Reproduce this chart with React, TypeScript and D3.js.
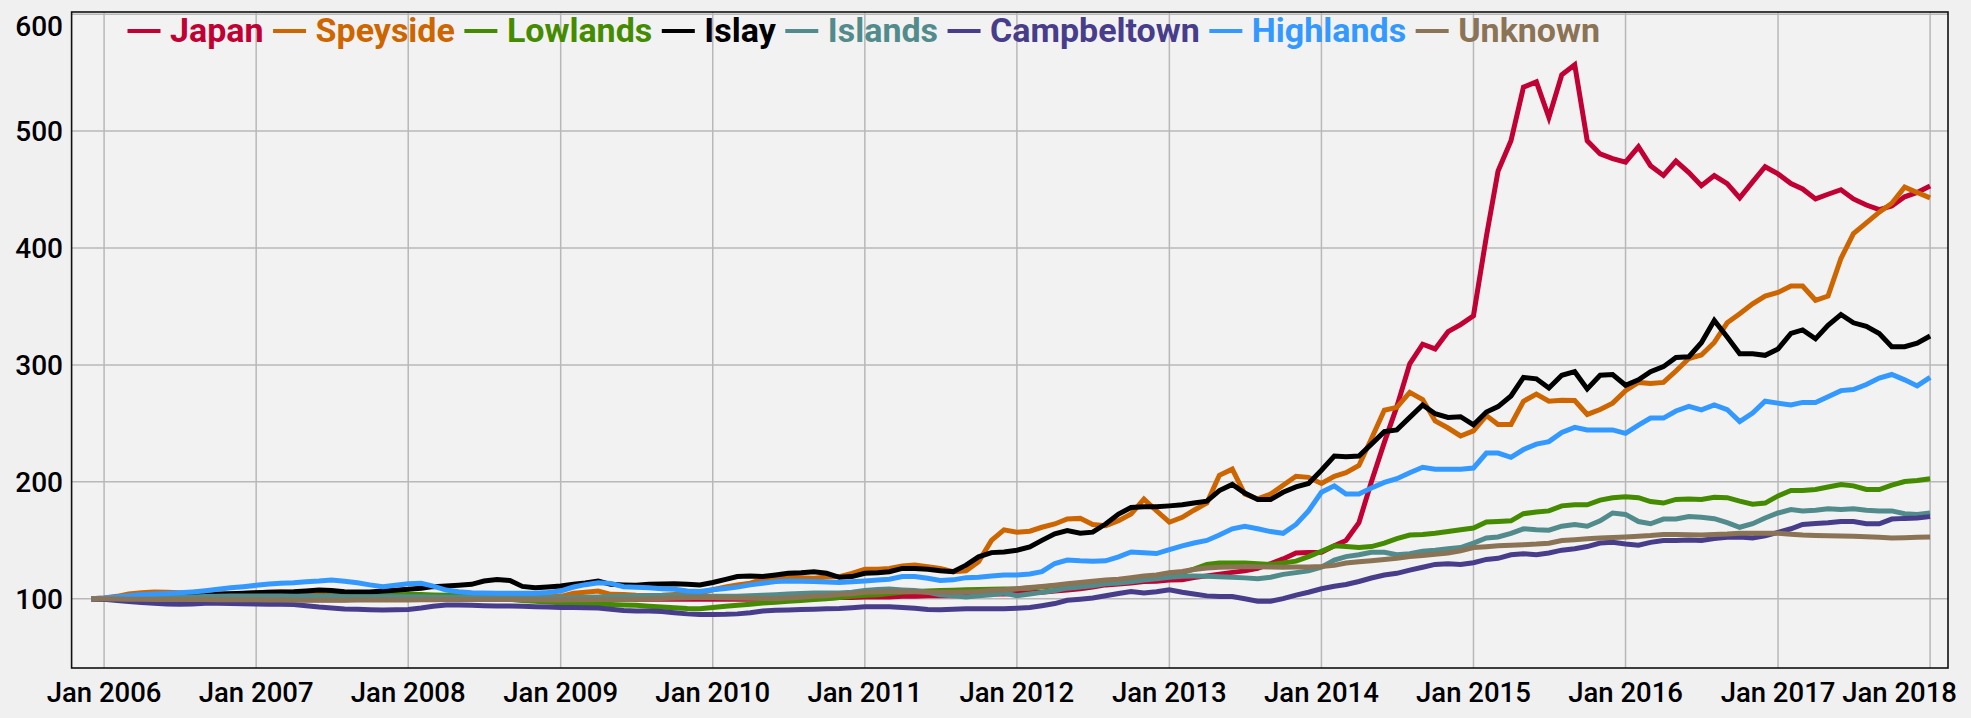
import React, { useEffect, useRef } from "react";
import * as d3 from "d3";

const W = 1971;
const H = 718;

// Monthly dates: Dec 2005 .. Jan 2018
const months: Date[] = d3.timeMonth.range(new Date(2005, 11, 1), new Date(2018, 1, 1));

const seriesNames = ["Japan", "Speyside", "Lowlands", "Islay", "Islands", "Campbeltown", "Highlands", "Unknown"];
const seriesColors = ["#c10034", "#cd6600", "#458b00", "#000000", "#528b8b", "#483d8b", "#3399ff", "#8b7355"];

const japan = [
  100,
  100, 100, 100.5, 100.5, 100, 99.5, 99.5, 99.5, 100, 100, 100, 100,
  100, 100, 99.5, 99.5, 99, 99, 99, 99, 99.5, 99.5, 99.5, 100,
  100, 100, 100, 100, 100, 99.5, 99.5, 99.5, 100, 100, 100.5, 100.5,
  100.5, 101, 101, 100.5, 100, 100, 99.5, 99.5, 99.5, 99.5, 99.5, 99.5,
  99.5, 99.5, 99.5, 99.5, 99.5, 99.5, 99.7, 100, 100, 100.5, 101, 101,
  101.4, 101.5, 101.5, 102, 102, 102.5, 102.5, 102.5, 103, 103.5, 104, 104,
  104.5, 105, 105.5, 106.5, 107.5, 108.5, 110, 111.8, 112.5, 113.5, 114.6, 115,
  116, 116.2, 118, 119.5, 121, 122.5, 123.8, 126, 129.9, 134, 139, 139.5,
  139.7, 145.2, 149.8, 165, 200, 233.7, 264.3, 300.9, 317.7, 313.7, 328.4, 334.5,
  342.1, 410, 465.8, 491.8, 537.6, 542.1, 511.6, 548.2, 556.8, 491.8, 480.5, 476.5,
  473.4, 486.6, 470.4, 462.1, 474.4, 464.5, 453.3, 462, 455.1, 442.9, 456.6, 469.5,
  463.4, 455.1, 450.5, 442, 446, 449.9, 442, 436.8, 432.8, 435.9, 443.8, 447.5,
  453,
];

const speyside = [
  100,
  100.5, 102, 104, 105, 105.7, 105.5, 105, 104.6, 104.5, 104.3, 104.3, 104.5,
  105, 105.5, 105.7, 105.5, 105.3, 105.1, 105, 104.8, 104.3, 103.7, 103.5, 103.2,
  103, 102.8, 102.5, 102.3, 102.3, 102.3, 102.3, 102.3, 102.3, 102, 101.8, 101.7,
  102, 104.6, 105.5, 106.6, 103.7, 103.5, 103, 102.8, 103, 103.5, 103.7, 104.8,
  107.6, 110, 111.8, 113.2, 116.6, 117.5, 118.3, 118, 117.5, 118.5, 118.9, 121.7,
  125.1, 125.1, 125.9, 127.9, 128.7, 127.3, 125.9, 123.1, 123.9, 131.5, 149.9, 158.9,
  156.9, 157.7, 161.1, 163.9, 168.2, 168.7, 163.4, 162.5, 166.8, 172.4, 185.1, 175.2,
  165.4, 169.6, 175.7, 181.8, 205.6, 210.8, 189.5, 185.5, 189.5, 197.1, 204.7, 203.8,
  198.6, 204.7, 207.8, 213.9, 236.8, 261.2, 263.7, 276.5, 270.4, 252.1, 246, 239.2,
  243.5, 256.6, 249, 249, 268.9, 275, 268.9, 269.8, 269.5, 257.6, 261.8, 267.3,
  278, 285, 284.1, 285, 294.8, 305.5, 308.5, 319.2, 336, 343.7, 352.2, 358.9,
  362, 367.5, 367.5, 355.3, 358.9, 391, 412.4, 421.5, 430.7, 438.3, 452.1, 447.5,
  442.9,
];

const lowlands = [
  100,
  100, 100.5, 100.5, 101, 101, 101, 101, 101, 101, 101.5, 101.5, 101.5,
  101.5, 101.8, 102, 102, 102.3, 102.3, 102.5, 102.5, 102.8, 102.8, 103, 103.2,
  103.5, 103.5, 103.2, 103, 102.5, 101.7, 101, 100.5, 99.4, 98.5, 97.8, 97.2,
  96.6, 96, 95.5, 95.2, 95, 94.6, 94.3, 93.5, 92.8, 92.3, 91.6, 91.3,
  92.4, 93.5, 94.4, 95.3, 96.2, 96.9, 97.8, 98.5, 99.2, 100, 101, 102,
  103, 103.4, 104.5, 105.5, 106.2, 106.6, 107, 107.2, 107.6, 107.8, 108, 108.2,
  108.5, 109.2, 109.9, 111, 112, 113.2, 114, 115, 116, 117, 118.3, 119.5,
  121.7, 122.3, 125.3, 129.3, 130.5, 130.5, 130.5, 129.9, 129.3, 130.5, 132.1, 136,
  140.6, 145.2, 144.6, 143.7, 144.6, 147.6, 151.3, 154.4, 155, 155.9, 157.4, 158.9,
  160.5, 165.6, 166, 166.6, 172.7, 174.2, 175.1, 179.4, 180.3, 180.3, 184.3, 186.4,
  187.3, 186.4, 183.1, 181.8, 184.9, 185.2, 184.8, 186.8, 186.4, 183.4, 180.9, 181.8,
  187.9, 192.5, 192.5, 193.4, 195.6, 197.7, 196.5, 193.4, 193.4, 197.1, 200.2, 201.1,
  202.6,
];

const islay = [
  100,
  100, 100.3, 100.6, 100.9, 101.2, 101.5, 101.7, 102.2, 102.8, 103.7, 104.2, 104.6,
  105.1, 105.4, 105.7, 106, 106.6, 107.4, 107, 106, 105.8, 105.7, 106.5, 107.3,
  108, 109, 110.3, 110.8, 111.5, 112.3, 115.1, 116.5, 115.5, 110.5, 109.4, 110,
  110.8, 112.3, 113.5, 115.1, 112.3, 111.8, 111.4, 112.3, 112.5, 112.8, 112.3, 111.8,
  113.8, 116.5, 118.9, 119.4, 118.9, 120.3, 121.7, 122.2, 123.1, 121.7, 118.3, 118.9,
  121.7, 122.2, 123.1, 125.9, 125.9, 125.1, 123.9, 123.1, 128.7, 135.8, 139.4, 140,
  141.4, 144.2, 149.9, 155.5, 158.3, 156, 156.9, 163.9, 172.4, 178, 178.6, 178.6,
  179.4, 180.3, 181.8, 183.4, 192.5, 197.7, 190.4, 184.9, 184.9, 191, 195.6, 198.6,
  209.9, 222.1, 221.5, 222.1, 232.2, 242.9, 244.4, 255.1, 265.8, 258.2, 255.1, 255.7,
  248.7, 259.7, 264.3, 273.4, 289.3, 288.1, 280.2, 291.1, 294.2, 279.5, 291.1, 291.8,
  282.6, 287.2, 294.2, 298.5, 306.4, 307, 319, 338, 323.8, 309.5, 309.5, 308.2,
  313.7, 326.9, 329.9, 322.3, 333.9, 343.1, 336, 333, 326.9, 315.6, 315.6, 318.6,
  324.7,
];

const islands = [
  100,
  100, 100.3, 100.5, 100.8, 101, 101, 101.2, 101.5, 101.8, 102, 102.2, 102.3,
  102.3, 102.3, 102.2, 102, 102, 101.8, 101.8, 101.7, 101.7, 101.7, 101.7, 101.7,
  101.7, 101.6, 101.5, 101.3, 101.2, 101, 101, 100.9, 100.9, 100.9, 100.9, 100.9,
  100.9, 101, 101.2, 101.5, 101.8, 102, 102.2, 102.5, 102.8, 102.8, 102.5, 102.2,
  102, 102, 102, 102.5, 103, 103.4, 104, 104.5, 104.8, 104.8, 104.8, 105.5,
  107, 107.8, 108.2, 107.5, 107, 105.5, 103.4, 102.5, 101.4, 102.5, 103.4, 104.8,
  102.5, 104, 105.4, 107, 109, 110, 111, 112.7, 113.5, 114.5, 116, 117,
  118.3, 119.2, 119.3, 119.2, 118.8, 118.3, 117.8, 117.1, 118.3, 120.8, 122.3, 123.8,
  126.9, 133, 136, 137.6, 139.7, 139.7, 137.6, 138.5, 140.6, 141.5, 142.7, 143.7,
  147.5, 151.9, 152.8, 155.9, 159.8, 158.9, 158.6, 162, 163.5, 162, 166.6, 173.3,
  172.1, 166, 164.1, 168.1, 168.1, 170.2, 169.6, 168.4, 165, 161.1, 164.1, 169,
  173.3, 176.3, 175.1, 175.7, 176.9, 176.3, 176.9, 175.7, 175.1, 175.1, 172.7, 172.1,
  173.3,
];

const campbeltown = [
  100,
  99.5, 98.5, 97.5, 96.8, 96, 95.5, 95.2, 95.5, 96, 96, 95.8, 95.7,
  95.5, 95.3, 95.2, 95, 94, 92.8, 92, 91.2, 90.9, 90.5, 90.3, 90.5,
  90.8, 92, 93.5, 94.6, 94.5, 94.3, 94, 93.8, 93.7, 93.5, 93.2, 92.9,
  92.5, 92.5, 92.3, 92, 91, 89.8, 89.5, 89.5, 89, 88, 87, 86.5,
  86.5, 86.6, 87, 88, 89.5, 90.1, 90.4, 90.7, 91, 91.3, 91.5, 92.2,
  93, 93, 93, 92.5, 91.8, 90.7, 90.5, 91, 91.3, 91.3, 91.3, 91.3,
  91.8, 92.5, 94, 95.8, 98.6, 99.5, 100.6, 102.5, 104.5, 106.2, 104.8, 106,
  107.6, 105.5, 104, 102.4, 101.8, 101.8, 100, 97.9, 97.9, 100, 103.1, 105.5,
  108.5, 110.7, 112.2, 114.7, 117.7, 120.2, 121.7, 124.4, 126.9, 129.3, 129.9, 129.3,
  130.8, 133.6, 134.5, 137.6, 138.5, 137.6, 139.1, 141.5, 142.7, 144.6, 147.6, 148.2,
  146.7, 145.8, 148.2, 149.8, 149.8, 150.2, 149.8, 151.5, 152.5, 152.8, 151.9, 153.7,
  156.8, 159.8, 163.5, 164.4, 165, 166, 166, 164.1, 164.1, 168.1, 168.7, 169,
  170.2,
];

const highlands = [
  100,
  100.5, 101.5, 102.5, 103.5, 104, 104.5, 105, 105.8, 106.8, 108, 109.3, 110.3,
  111.4, 112.5, 113.2, 113.7, 114.5, 115.1, 116, 115, 113.7, 111.8, 110.3, 111.5,
  112.8, 113.1, 110.8, 107.4, 106, 105.1, 104.8, 104.6, 104.6, 104.6, 104.6, 105.3,
  106.6, 110, 112, 113.7, 113.1, 110.3, 109.8, 109.4, 108.5, 108, 106.6, 106.2,
  107.6, 108.8, 109.9, 111.8, 113.2, 114.6, 115.2, 115, 114.6, 114.2, 113.8, 114.5,
  115.2, 116, 116.6, 118.9, 118.9, 117.5, 115.5, 116.1, 118, 118.3, 119.4, 120.3,
  120.3, 121.1, 123.1, 130.1, 133, 132.4, 132.1, 132.4, 135.8, 140, 139.2, 138.6,
  142, 145.2, 147.6, 149.8, 154.4, 159.8, 162, 159.8, 157.4, 155.9, 163.5, 175.1,
  191, 196.5, 189.5, 189.5, 194.7, 199.5, 202.6, 207.8, 212.4, 210.8, 210.8, 210.8,
  211.8, 224.6, 224.6, 220.9, 227.6, 232.2, 234.4, 242.3, 246.6, 244.4, 244.4, 244.4,
  241.4, 248.4, 254.5, 254.5, 260.6, 264.5, 261.5, 265.8, 261.8, 251.5, 258.8, 268.9,
  267.3, 265.8, 267.9, 267.9, 272.8, 278, 278.9, 283.2, 288.7, 291.8, 287.2, 282,
  289.3,
];

const unknown = [
  100,
  100, 99.8, 99.6, 99.5, 99.4, 99.4, 99.4, 99.3, 99.2, 99.1, 99, 99,
  99, 98.9, 98.8, 98.7, 98.6, 98.6, 98.6, 98.7, 98.8, 98.8, 98.9, 98.9,
  98.9, 99, 99.1, 99.2, 99.3, 99.4, 99.4, 99.3, 99.2, 99.1, 99, 98.9,
  98.9, 99, 99.1, 99.2, 99.4, 99.4, 99.5, 99.8, 100.2, 100.6, 100.9, 101.2,
  101, 100.8, 100.6, 100.4, 100.2, 100, 100.5, 101.2, 102, 102.5, 103.5, 104.2,
  105.4, 105.8, 106.2, 106.2, 106, 105.6, 105.4, 105.5, 105.8, 106.2, 107, 107.6,
  108.5, 109.5, 110.4, 111.5, 112.8, 113.8, 115, 116, 116.6, 118, 119.5, 120.3,
  122.3, 123.2, 125, 126.2, 126.9, 127.2, 127.5, 127.3, 127, 126.9, 127, 127.2,
  127.5, 128.5, 130.5, 131.5, 132.5, 133.6, 134.5, 136, 137, 138, 139.1, 141,
  143.7, 144.5, 145.2, 145.8, 146.2, 146.7, 147.5, 149.8, 150.5, 151.2, 151.9, 152.3,
  152.8, 153.5, 154, 155, 155, 154.7, 154.5, 155, 155.3, 155.9, 155.9, 155.9,
  155.9, 155.2, 154.4, 154, 153.8, 153.6, 153.4, 153, 152.5, 151.9, 152.2, 152.5,
  152.8,
];

const seriesValues = [japan, speyside, lowlands, islay, islands, campbeltown, highlands, unknown];

const yTicks = [100, 200, 300, 400, 500, 600];
const xTickYears = [2006, 2007, 2008, 2009, 2010, 2011, 2012, 2013, 2014, 2015, 2016, 2017, 2018];

export default function App() {
  const ref = useRef<SVGSVGElement | null>(null);

  useEffect(() => {
    const svg = d3.select(ref.current);
    svg.selectAll("*").remove();

    const left = 71.6, right = 1948, top = 12, bottom = 668;

    const x = d3.scaleTime()
      .domain([new Date(2005, 9, 15), new Date(2018, 1, 13)])
      .range([left, right]);
    const y = d3.scaleLinear().domain([40.7, 601.9]).range([bottom, top]);

    svg.append("rect").attr("x", 0).attr("y", 0).attr("width", W).attr("height", H).attr("fill", "#f0f0f0");
    svg.append("rect").attr("x", left).attr("y", top).attr("width", right - left).attr("height", bottom - top).attr("fill", "#f2f2f2");

    const grid = svg.append("g").attr("stroke", "#b8b8b8").attr("stroke-width", 1.5);
    yTicks.forEach((t) => {
      grid.append("line").attr("x1", left).attr("x2", right).attr("y1", y(t)).attr("y2", y(t));
    });
    xTickYears.forEach((yr) => {
      const xx = x(new Date(yr, 0, 1));
      grid.append("line").attr("x1", xx).attr("x2", xx).attr("y1", top).attr("y2", bottom);
    });

    // Lines
    const line = d3.line<number>()
      .x((_, i) => x(months[i]))
      .y((v) => y(v));
    seriesValues.forEach((vals, si) => {
      svg.append("path")
        .attr("d", line(vals) as string)
        .attr("fill", "none")
        .attr("stroke", seriesColors[si])
        .attr("stroke-width", 5)
        .attr("stroke-linejoin", "miter");
    });

    // Border
    svg.append("rect").attr("x", left).attr("y", top).attr("width", right - left).attr("height", bottom - top)
      .attr("fill", "none").attr("stroke", "#111").attr("stroke-width", 1.6);

    // Y labels (kept inside the page: top label nudged down like the reference)
    const font = "Roboto, 'Noto Sans', sans-serif";
    const yFs = 28;
    yTicks.forEach((t) => {
      const baseline = Math.max(y(t) + 0.36 * yFs, 16 + 0.711 * yFs);
      svg.append("text").attr("x", 63).attr("y", baseline)
        .attr("text-anchor", "end").attr("font-family", font).attr("font-weight", 500)
        .attr("font-size", yFs).attr("fill", "#000").text(String(t));
    });

    // X labels
    const fmt = d3.timeFormat("%b %Y");
    xTickYears.forEach((yr) => {
      const d = new Date(yr, 0, 1);
      const t = svg.append("text").attr("y", 702)
        .attr("font-family", font).attr("font-weight", 500)
        .attr("font-size", 27.5).attr("fill", "#000").text(fmt(d));
      const w = (t.node() as SVGTextElement).getComputedTextLength();
      let cx = x(d);
      if (cx + w / 2 > 1957) cx = 1957 - w / 2;
      t.attr("x", cx).attr("text-anchor", "middle");
    });

    // Legend
    let lx = 127.5;
    seriesNames.forEach((name, si) => {
      svg.append("line").attr("x1", lx).attr("x2", lx + 33).attr("y1", 31).attr("y2", 31)
        .attr("stroke", seriesColors[si]).attr("stroke-width", 4);
      const t = svg.append("text").attr("x", lx + 42.5).attr("y", 42)
        .attr("font-family", font).attr("font-weight", 700).attr("font-size", 34)
        .attr("fill", seriesColors[si]).text(name);
      const w = (t.node() as SVGTextElement).getComputedTextLength();
      lx = lx + 42.5 + w + 9.5;
    });
  }, []);

  return (
    <svg
      ref={ref}
      width={W}
      height={H}
      style={{ position: "absolute", left: 0, top: 0, display: "block" }}
    />
  );
}
